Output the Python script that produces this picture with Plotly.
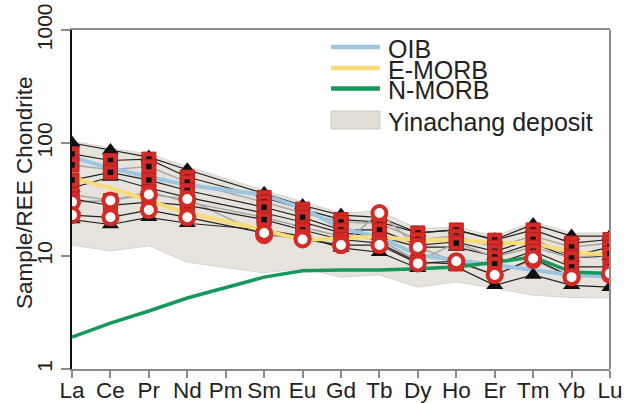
import plotly.graph_objects as go

elements = ["La", "Ce", "Pr", "Nd", "Pm", "Sm", "Eu", "Gd", "Tb", "Dy", "Ho", "Er", "Tm", "Yb", "Lu"]

oib = [75, 60, 50, 42.5, None, 34.7, 26.6, 17.7, 14.7, 10.2, 9.2, 8.3, 7.5, 6.8, 6.6]
emorb = [49, 40, 31, 24, None, 17, 13.8, 14.4, 14.7, 13.8, 14, 13, 13, 10.8, 10.2]
nmorb = [1.92, 2.55, 3.26, 4.25, None, 6.5, 7.4, 7.5, 7.5, 7.7, 8.0, 8.8, 9.8, 7.2, 7.0]

region_upper = [104, 90, 80, 62, None, 38, 30, 24, 25, 17.5, 18, 15, 20, 16, 16]
region_lower = [12.5, 11.1, 12.3, 8.8, None, 7.1, 7.8, 6.5, 6.8, 5.3, 5.9, 5.2, 4.5, 4.3, 4.25]

s1 = [100, 86, 75, 58, None, 36, 28, 23, 22, 16, 17, 14, 19, 15, 15]
s2 = [80, 70, 72, 50, None, 33, 26, 21, 20, 16, 17, 13.8, 17, 13, 14]
s3 = [64, 58, 62, 45, None, 30, 24, 20, 19.5, 14, 15, 12, 15, 12, 13]
s4 = [47, 55, 47, 38, None, 27, 22, 17, 17, 12.5, 13.3, 11, 14, 10, 12]
s5 = [40, 50, 40, 33, None, 24, 20, 16, 15, 12, 12, 10, 13, 9.6, 10]
s6 = [35, 31, 37, 30, None, 22, 18, 15, 14, 9, 13, 9.8, 12, 9.6, 10.5]
s7 = [30, 31, 35, 32, None, 15.3, 14.4, 12.5, 24, 12, 8.8, 6.8, 9.2, 6.5, 6.8]
s8 = [32, 28, 30, 28, None, 21, 17, 14, 13, 8.8, 8.5, 8.5, 11, 8, 8]
s9 = [23, 22, 25.5, 22, None, 16, 14, 12.5, 12.5, 8.6, 9, 6.8, 9.5, 6.5, 7]
s10 = [21, 19, 22, 19.5, None, 17, 15, 11.8, 10.8, 7.8, 8, 5.5, 6.8, 5.5, 5.3]

samples = [
    (s1, "tri", "black"), (s2, "sq", "black"), (s3, "sq", "gray"), (s4, "sq", "black"),
    (s5, "tri", "black"), (s6, "sq", "gray"), (s7, "circ", "gray"), (s8, "sq", "black"),
    (s9, "circ", "black"), (s10, "tri", "black"),
]

legend_names = ["OIB", "E-MORB", "N-MORB", "Yinachang deposit"]
y_title = "Sample/REE Chondrite"

RED = "#d52b26"
C_OIB, C_EM, C_NM, C_REG = "#9cc6e0", "#f8dc78", "#15995a", "#e6e3dc"
fig = go.Figure()

idx = [i for i, v in enumerate(region_upper) if v is not None]
px = [elements[i] for i in idx] + [elements[i] for i in reversed(idx)]
py = [region_upper[i] for i in idx] + [region_lower[i] for i in reversed(idx)]
fig.add_trace(go.Scatter(x=px, y=py, fill="toself", fillcolor=C_REG, mode="lines",
                         line=dict(color="#d8d5ce", width=1), name=legend_names[3],
                         showlegend=False))

for vals, kind, lc in samples:
    fig.add_trace(go.Scatter(x=elements, y=vals, mode="lines", connectgaps=True,
                             line=dict(color="#222222" if lc == "black" else "#a8a8a8",
                                       width=1.2 if lc == "black" else 1.6),
                             showlegend=False, hoverinfo="skip"))

fig.add_trace(go.Scatter(x=elements, y=oib, mode="lines", connectgaps=True,
                         line=dict(color=C_OIB, width=4), name=legend_names[0], showlegend=False))
fig.add_trace(go.Scatter(x=elements, y=emorb, mode="lines", connectgaps=True,
                         line=dict(color=C_EM, width=4), name=legend_names[1], showlegend=False))
fig.add_trace(go.Scatter(x=elements, y=nmorb, mode="lines", connectgaps=True,
                         line=dict(color=C_NM, width=3.5), name=legend_names[2], showlegend=False))

for vals, kind, lc in samples:
    if kind == "tri":
        fig.add_trace(go.Scatter(x=elements, y=vals, mode="markers",
                                 marker=dict(symbol="triangle-up", size=15, color="#111111"),
                                 showlegend=False))
for vals, kind, lc in samples:
    if kind == "sq":
        fig.add_trace(go.Scatter(x=elements, y=vals, mode="markers",
                                 marker=dict(symbol="square", size=14, color=RED,
                                             line=dict(color="#b52220", width=1)),
                                 showlegend=False))
        fig.add_trace(go.Scatter(x=elements, y=vals, mode="markers",
                                 marker=dict(symbol="square", size=5.5, color="#111111"),
                                 showlegend=False))
for vals, kind, lc in samples:
    if kind == "circ":
        fig.add_trace(go.Scatter(x=elements, y=vals, mode="markers",
                                 marker=dict(symbol="circle", size=14, color="white",
                                             line=dict(color=RED, width=4)),
                                 showlegend=False))

FONT = "Arial, Liberation Sans, sans-serif"
TXT = "#222222"

L = 72.0; W = 538.0; T = 30.0; H = 339.0
def pxx(x): return (x - L) / W
def pxy(y): return 1 - (y - T) / H

shapes = [dict(type="line", xref="paper", yref="paper", x0=1, x1=1, y0=0, y1=1,
               line=dict(color="#8a8a8a", width=2))]
annotations = []
leg_rows = [(47, C_OIB, 4.5), (68, C_EM, 4.5), (88.5, C_NM, 4.5)]
for (yy, col, wd), name in zip(leg_rows, legend_names[:3]):
    shapes.append(dict(type="line", xref="paper", yref="paper", x0=pxx(331), x1=pxx(380),
                       y0=pxy(yy), y1=pxy(yy), line=dict(color=col, width=wd)))
shapes.append(dict(type="rect", xref="paper", yref="paper", x0=pxx(331), x1=pxx(380),
                   y0=pxy(129), y1=pxy(111), fillcolor="#e0ddd5",
                   line=dict(color="#d0cdc5", width=1)))
for yy, name in zip([47, 68, 88.5, 120.5], legend_names):
    annotations.append(dict(xref="paper", yref="paper", x=pxx(386), y=pxy(yy + 1.5),
                            xanchor="left", yanchor="middle", showarrow=False, text=name,
                            font=dict(size=25, family=FONT, color=TXT)))
annotations.append(dict(xref="paper", yref="paper", x=pxx(24), y=pxy(193),
                        xanchor="center", yanchor="middle", showarrow=False, text=y_title,
                        textangle=-90, font=dict(size=22.5, family=FONT, color=TXT)))

fig.update_layout(
    width=626, height=403,
    margin=dict(l=72, r=16, t=30, b=34, autoexpand=False),
    paper_bgcolor="white", plot_bgcolor="white",
    font=dict(family=FONT, color=TXT),
    showlegend=False,
    xaxis=dict(type="category", categoryorder="array", categoryarray=elements,
               range=[0, 14], showgrid=False, zeroline=False, automargin=False,
               showline=True, linecolor="#8a8a8a", linewidth=2, mirror=True,
               ticks="outside", ticklen=7, tickcolor="#8a8a8a", tickwidth=1.5,
               ticklabelstandoff=-7,
               tickfont=dict(size=22.5, family=FONT, color=TXT)),
    yaxis=dict(type="log", range=[0, 3], showgrid=False, zeroline=False, automargin=False,
               showline=True, linecolor="#111111", linewidth=1.5,
               ticks="outside", ticklen=9, tickcolor="#8a8a8a", tickwidth=1.5,
               tickvals=[1, 10, 100, 1000], ticktext=["1", "10", "100", "1000"],
               tickangle=-90, ticklabelstandoff=1,
               tickfont=dict(size=21, family=FONT, color=TXT)),
    shapes=shapes,
    annotations=annotations,
)

fig.write_html("out.html", config={"displayModeBar": False},
               post_script="document.body.style.margin='0';document.body.style.overflow='hidden';")
